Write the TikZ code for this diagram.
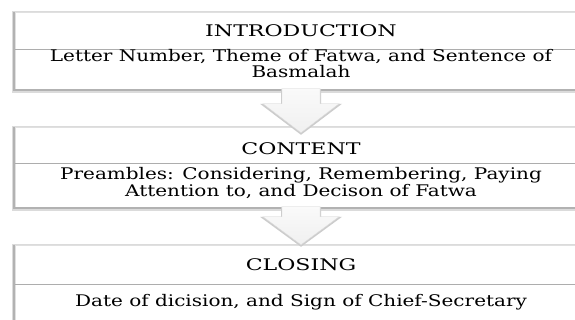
\documentclass[tikz,border=0pt]{standalone}
\usepackage{fontspec}
\setmainfont[FakeStretch=1.25]{DejaVu Serif}
\newfontfamily\hdrfont[FakeStretch=1.38]{DejaVu Serif}
\usetikzlibrary{calc}
\definecolor{edge}{gray}{0.88}
\definecolor{divide}{gray}{0.68}
\definecolor{shade1}{gray}{0.70}
\definecolor{shade2}{gray}{0.86}
\tikzset{
  boxpart/.style={minimum width=572pt, inner sep=0pt, anchor=north west},
  txt/.style={align=center, inner sep=0pt, font=\fontsize{16}{14}\selectfont},
  hdrtxt/.style={inner sep=0pt, font=\hdrfont\fontsize{16}{14}\selectfont},
  divline/.style={draw=divide, line width=0.8pt},
  outline/.style={draw=edge, line width=0.6pt},
  bigarrow/.style={top color=gray!4, bottom color=gray!12, draw=gray!30, line width=0.4pt},
  arrowshadow/.style={fill=gray!40},
}
\newcommand{\boxshadow}[2]{%
  \fill[shade2] ($(#1.north west)+(-3pt,1pt)$) rectangle ($(#2.south east)+(2pt,-4.5pt)$);
  \fill[shade1] ($(#1.north west)+(-2pt,0pt)$) rectangle ($(#2.south east)+(1pt,-2.5pt)$);
}
\newcommand{\flowarrow}[4]{% #1 top node, #2 name, #3 head base offset, #4 tip offset
  \coordinate (#2) at (#1.south -| 301pt,0);
  \fill[arrowshadow] ($(#2)+(-20,0)$) -- ($(#2)+(-20,#3)$) -- ($(#2)+(-41,#3)$)
     -- ($(#2)+(0,#4+2)$) -- ($(#2)+(41,#3)$) -- ($(#2)+(20,#3)$) -- ($(#2)+(20,0)$) -- cycle;
  \path[bigarrow] ($(#2)+(-19,0)$) -- ($(#2)+(-19,#3)$) -- ($(#2)+(-38,#3)$)
     -- ($(#2)+(0,#4)$) -- ($(#2)+(38,#3)$) -- ($(#2)+(19,#3)$) -- ($(#2)+(19,0)$) -- cycle;
}
\begin{document}
\begin{tikzpicture}[x=1pt,y=-1pt]
\useasboundingbox (0,0) rectangle (575,320);
\clip (0,0) rectangle (575,320);
\fill[white] (0,0) rectangle (575,320);
% box geometry
\path (15,12) coordinate (p1) (15,127) coordinate (p2) (15,245) coordinate (p3);
\path (p1) node[boxpart, minimum height=37pt] (h1) {};
\path (h1.south west) node[boxpart, minimum height=39pt] (b1) {};
\path (p2) node[boxpart, minimum height=36pt] (h2) {};
\path (h2.south west) node[boxpart, minimum height=43pt] (b2) {};
\path (p3) node[boxpart, minimum height=39pt] (h3) {};
\path (h3.south west) node[boxpart, minimum height=45pt] (b3) {};
% shadows, then white boxes
\foreach \h/\b in {h1/b1,h2/b2,h3/b3}{
  \boxshadow{\h}{\b}
  \fill[white] (\h.north west) rectangle (\b.south east);
  \draw[outline] (\b.south west) -- (\h.north west) -- (\h.north east);
  \draw[divline] (\h.south west) -- (\h.south east);
}
% arrows
\flowarrow{b1}{a1}{15}{44}
\flowarrow{b2}{a2}{10}{38}
% texts
\node[hdrtxt] (t1) at (301,31) {INTRODUCTION};
\node[txt] (s1) at (301,63.5) {Letter Number, Theme of Fatwa, and Sentence of\\Basmalah};
\node[hdrtxt] (t2) at (301,149) {CONTENT};
\node[txt] (s2) at (301,183) {Preambles: Considering, Remembering, Paying\\Attention to, and Decison of Fatwa};
\node[hdrtxt] (t3) at (301,265) {CLOSING};
\node[txt] (s3) at (301,302) {Date of dicision, and Sign of Chief-Secretary};
\end{tikzpicture}
\end{document}
